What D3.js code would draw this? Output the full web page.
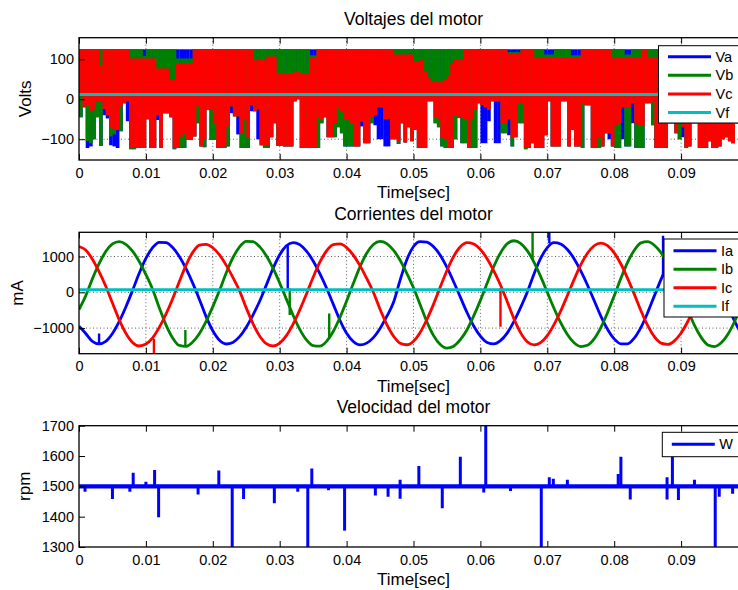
<!DOCTYPE html>
<html>
<head>
<meta charset="utf-8">
<title>Motor</title>
<script src="https://cdn.jsdelivr.net/npm/d3@7/dist/d3.min.js"></script>
<style>
    body { margin: 0; background: #fff; }
    svg text { font-family: "Liberation Sans", Arial, Helvetica, sans-serif; fill: #000; }
</style>
</head>
<body>
<div id="chart"></div>
<script>
const width = 738, height = 590;

// shared time axis
const xTicks = [0, 0.01, 0.02, 0.03, 0.04, 0.05, 0.06, 0.07, 0.08, 0.09];
const xTickLabels = ['0', '0.01', '0.02', '0.03', '0.04', '0.05', '0.06', '0.07', '0.08', '0.09'];

// --- voltages: envelope per 0.5 ms bin (lo / hi of each phase) ---
const vBin = 0.0005;
const vcLo = [10,-20,-15,-30,-25,-5,-5,-25,-40,-72, -77,-77,-18,-10,-5,-122,-122,-122,-122,-122,
 -50,-122,-122,-40,-122,-35,-35,-45,-122,-122, -93,-85,-102,-102,-93,-18,-118,-102,-27,-27,
 -60,-122,-122,-118,-68,-18,-43,-43,-85,-52,
 -95,-15,-30,-25,-115,-115,-115,-95,-60,-117, -117,-118,-118,-118,-5,0,-122,-122,-122,-122,
 -122,-47,-50,-45,-95,-95,-60,-20,-30,-50, -50,-60,-118,-118,-55,-110,-110,-45,-40,-20,
 -20,-50,-50,-100,-100,-105,-60,-108,-70,-105,
 -77,-122,-122,-122,-5,-5,-45,-50,-97,-100, -122,-122,-40,-47,-47,-50,-122,-50,-27,-10,
 -15,-20,-27,-5,-5,-5,-60,-60,-50,-95, -95,-10,-10,-122,-122,-110,-122,-122,-122,-90,
 -5,-118,-118,-118,-5,-5,-118,-77,-118,-118,
 -10,-15,-15,-122,-122,-95,-118,-85,-85,-118, -65,-60,-20,-20,-20,-10,-60,-65,-65,-10,
 -10,-5,-122,-122,-122,-122,-60,-60,-85,-60, -70,-122,-118,-60,-60,-122,-122,-122,-105,-122,
 -122,-118,-100,-95,-105,-110,-60,-60,-60,-60];
const vcHi = [125,125,125,125,125,125,85,125,125,125, 125,125,125,125,125,102,102,102,102,102,
 102,102,102,77,77,77,77,48,48,90, 90,90,90,90,125,125,125,125,125,125,
 125,125,125,125,125,125,125,125,125,125,
 125,125,98,98,98,98,107,107,107,65, 65,65,65,65,70,70,65,65,65,105,
 105,125,125,125,125,125,125,125,125,125, 125,125,125,125,125,125,125,125,125,125,
 125,125,125,125,112,112,112,112,112,112,
 95,95,100,70,55,45,45,43,45,50, 60,90,100,100,100,125,125,125,125,125,
 125,125,125,125,125,125,125,125,115,115, 115,115,125,125,125,125,105,105,105,105,
 105,105,105,105,105,105,105,105,105,105,
 125,125,125,125,125,125,125,125,125,105, 105,105,105,105,105,105,105,105,125,125,
 105,105,105,105,125,125,125,125,125,125, 125,125,125,125,125,125,125,125,125,125,
 125,125,125,125,125,125,125,125,125,125];
const vbLo = [-45,-20,-105,-110,-100,-45,-117,-25,-40,-93, -88,-77,-80,-10,-5,-125,-125,-122,-122,-122,
 -50,-122,-122,-40,-122,-35,-35,-45,-125,-122, -122,-122,-102,-102,-93,-60,-118,-120,-27,-102,
 -102,-122,-122,-122,-118,-18,-43,-43,-122,-122,
 -122,-15,-30,-25,-115,-122,-122,-95,-60,-117, -117,-118,-118,-118,-5,0,-122,-122,-122,-122,
 -122,-122,-60,-45,-95,-95,-95,-70,-85,-118, -118,-118,-118,-118,-55,-110,-110,-60,-40,-20,
 -20,-50,-50,-100,-100,-112,-60,-108,-70,-105,
 -77,-122,-122,-122,-5,-5,-60,-70,-118,-122, -122,-122,-100,-47,-110,-110,-122,-122,-122,-10,
 -15,-20,-27,-5,-5,-5,-85,-85,-50,-118, -95,-60,-60,-125,-122,-110,-122,-122,-122,-90,
 -5,-118,-118,-118,-5,-5,-118,-77,-118,-118,
 -122,-15,-15,-122,-122,-122,-118,-85,-85,-118, -122,-122,-20,-118,-118,-10,-122,-122,-122,-10,
 -10,-65,-122,-122,-122,-122,-60,-60,-85,-100, -70,-122,-118,-60,-60,-122,-122,-122,-105,-122,
 -122,-118,-100,-95,-105,-110,-60,-60,-60,-60];
const vbHi = [125,125,125,125,125,125,125,125,125,125, 125,125,125,125,125,125,125,125,125,108,
 125,125,125,125,125,125,125,125,125,102, 102,102,102,102,125,125,125,125,125,125,
 125,125,125,125,125,125,125,125,125,125,
 125,125,125,125,125,125,125,125,125,125, 125,125,125,125,125,125,125,125,125,110,
 110,125,125,125,125,125,125,125,125,125, 125,125,125,125,125,125,125,125,125,125,
 125,125,125,125,125,125,125,125,125,125,
 125,125,125,125,125,125,125,125,125,125, 125,125,125,125,125,125,125,125,125,125,
 125,125,125,125,125,125,125,125,118,118, 118,118,125,125,125,125,125,125,125,112,
 112,112,125,125,125,125,125,110,110,110,
 125,125,125,125,125,125,125,125,125,125, 125,125,125,112,112,125,125,125,125,125,
 125,125,125,125,125,125,125,125,125,125, 125,125,125,125,125,125,125,125,125,125,
 125,125,125,125,125,125,125,125,125,125];
const vaLo = [-45,-20,-122,-118,-100,-45,-117,-40,-48,-115, -118,-122,-80,-10,-55,-125,-125,-122,-122,-122,
 -50,-122,-122,-52,-122,-35,-35,-45,-125,-122, -122,-122,-102,-102,-93,-60,-118,-120,-27,-102,
 -102,-122,-122,-122,-118,-35,-30,-88,-122,-122,
 -122,-30,-30,-100,-115,-122,-122,-95,-60,-117, -117,-118,-118,-118,-5,0,-122,-122,-122,-122,
 -122,-122,-60,-45,-95,-95,-95,-70,-85,-118, -118,-118,-118,-118,-68,-110,-110,-60,-65,-100,
 -100,-118,-118,-100,-100,-112,-60,-108,-70,-105,
 -77,-122,-122,-122,-5,-5,-60,-70,-118,-122, -122,-122,-100,-47,-110,-110,-122,-122,-122,-10,
 -110,-110,-55,-5,-110,-110,-85,-85,-90,-118, -95,-60,-60,-125,-122,-110,-122,-122,-122,-90,
 -5,-118,-118,-118,-5,-5,-118,-77,-118,-118,
 -122,-15,-15,-122,-122,-122,-118,-85,-100,-118, -122,-122,-100,-118,-118,-60,-122,-122,-122,-10,
 -10,-65,-122,-122,-122,-122,-60,-60,-85,-100, -95,-122,-118,-60,-60,-122,-122,-122,-105,-122,
 -122,-118,-100,-95,-105,-110,-60,-60,-60,-60];
const vaHi = [125,125,125,125,125,125,125,125,125,125, 125,125,125,125,125,125,125,125,125,125,
 125,125,125,125,125,125,125,125,125,125, 125,125,125,125,125,125,125,125,125,125,
 125,125,125,125,125,125,125,125,125,125,
 125,125,125,125,125,125,125,125,125,125, 125,125,125,125,125,125,125,125,125,125,
 125,125,125,125,125,125,125,125,125,125, 125,125,125,125,125,125,125,125,125,125,
 125,125,125,125,125,125,125,125,125,125,
 125,125,125,125,125,125,125,125,125,125, 125,125,125,125,125,125,125,125,125,125,
 125,125,125,125,125,125,125,125,125,125, 125,125,125,125,125,125,125,125,125,125,
 125,125,125,125,125,125,125,125,125,125,
 125,125,125,125,125,125,125,125,125,125, 125,125,125,125,125,125,125,125,125,125,
 125,125,125,125,125,125,125,125,125,125, 125,125,125,125,125,125,125,125,125,125,
 125,125,125,125,125,125,125,125,125,125];
const vfT = [0, 0.1];
const vfV = [12, 12];

// --- currents, one reading per ms ---
const iStep = 0.001;
const ia = [-950,-1150,-1370,-1440,-1370,-1150,-820,-410,50,530,
 945,1245,1395,1390,1250,1000,660,255,-200,-680,
 -1075,-1340,-1444,-1400,-1240,-975,-635,-250,200,665,
 1050,1300,1390,1330,1150,875,520,120,-330,-780,
 -1145,-1375,-1470,-1420,-1265,-1010,-675,-285,340,910,
 1280,1415,1400,1270,1035,695,295,-135,-565,-940,
 -1225,-1400,-1440,-1350,-1140,-820,-430,0,505,945,
 1250,1385,1350,1195,940,600,205,-230,-665,-1030,
 -1300,-1440,-1440,-1280,-980,-570,-100,360,780,1110,
 1325,1400,1340,1150,860,500,85,-375,-805,-1150,
 -1370];
const ib = [-480,-100,375,800,1140,1350,1415,1340,1150,860,
 495,85,-430,-910,-1275,-1485,-1510,-1390,-1150,-810,
 -400,50,540,965,1270,1425,1415,1275,1020,675,
 260,-190,-640,-1035,-1330,-1490,-1505,-1370,-1095,-705,
 -245,245,710,1090,1335,1420,1360,1175,895,530,
 125,-350,-825,-1210,-1460,-1560,-1505,-1325,-1045,-660,
 -225,250,720,1100,1355,1440,1370,1165,845,445,
 0,-445,-850,-1180,-1410,-1515,-1480,-1300,-985,-570,
 -100,390,835,1175,1380,1415,1315,1105,795,415,
 0,-490,-925,-1260,-1470,-1515,-1410,-1170,-815,-380,
 60];
const ic = [1275,1180,925,575,170,-300,-765,-1145,-1400,-1500,
 -1445,-1270,-980,-610,-180,300,760,1115,1315,1340,
 1245,1045,760,415,40,-435,-875,-1220,-1435,-1500,
 -1420,-1210,-890,-490,-45,420,840,1155,1330,1350,
 1250,1040,745,390,0,-475,-895,-1220,-1420,-1465,
 -1365,-1120,-760,-330,145,610,1000,1270,1385,1350,
 1195,940,600,205,-255,-735,-1125,-1380,-1470,-1405,
 -1210,-905,-525,-90,355,765,1090,1300,1375,1305,
 1100,790,390,-50,-515,-925,-1240,-1420,-1455,-1355,
 -1135,-815,-425,0,470,880,1185,1350,1355,1230,
 1000];
const ifT = [0, 0.1];
const ifV = [70, 70];
// spikes: [time, from, to]
const iaSpikes = [[0.0030, -1440, -1150], [0.0312, 1290, 60], [0.0703, 1370, 1690], [0.0873, 420, 1580]];
const ibSpikes = [[0.0159, -1510, -1050], [0.0315, -635, 110], [0.0374, -1250, -590], [0.0678, 900, 1690]];
const icSpikes = [[0.0112, -1300, -1720], [0.0630, 120, -960]];

// --- speed ---
const wBaseT = [0, 0.1];
const wBaseV = [1500, 1500];
const wSpikeT = [0.0009,0.005,0.0076,0.0081,0.010,0.0113,0.0119,0.0178,0.0209,0.0229,0.0246,0.0292,0.0327,
 0.0342,0.0348,0.0373,0.0397,0.0443,0.0462,0.048,0.048,0.0508,0.0543,0.057,0.0605,0.0608,0.0645,0.0691,
 0.0703,0.0709,0.073,0.0806,0.081,0.0824,0.0879,0.0879,0.0887,0.0896,0.092,0.0951,0.0957,0.0977];
const wSpikeV = [1482,1458,1482,1545,1515,1554,1398,1473,1552,1300,1458,1444,1482,
 1300,1559,1487,1354,1470,1466,1522,1459,1567,1428,1598,1480,1700,1485,1300,
 1530,1525,1522,1541,1598,1457,1457,1530,1598,1455,1522,1300,1466,1476];

const colors = { a: '#0000ff', b: '#008000', c: '#ff0000', f: '#00bfbf' };

const svg = d3.select('#chart').append('svg')
    .attr('width', width).attr('height', height);

const x = d3.scaleLinear().domain([0, 0.1]).range([79, 748]);

function panel(cfg, idx) {
    const y = d3.scaleLinear().domain(cfg.yDomain).range([cfg.bottom, cfg.top]);
    const g = svg.append('g');

    g.append('clipPath').attr('id', 'clip' + idx)
        .append('rect')
        .attr('x', x(0)).attr('y', cfg.top)
        .attr('width', x(0.1) - x(0)).attr('height', cfg.bottom - cfg.top);

    // grid (dotted, like matlab "grid on")
    if (cfg.grid) {
        const gg = g.append('g').attr('stroke', '#333').attr('stroke-width', 0.8).attr('stroke-dasharray', '1,2.5');
        xTicks.slice(1).forEach(t => gg.append('line')
            .attr('x1', x(t)).attr('x2', x(t)).attr('y1', cfg.top).attr('y2', cfg.bottom));
        cfg.yTicks.forEach(v => gg.append('line')
            .attr('x1', x(0)).attr('x2', x(0.1)).attr('y1', y(v)).attr('y2', y(v)));
    }

    const plot = g.append('g').attr('clip-path', `url(#clip${idx})`);
    cfg.draw(plot, y);

    // axes
    g.append('g').attr('transform', `translate(0,${cfg.bottom})`)
        .call(d3.axisBottom(x).tickValues(xTicks).tickFormat((d, i) => xTickLabels[i])
            .tickSizeInner(-6).tickSizeOuter(0).tickPadding(7.5))
        .call(a => a.select('.domain').remove())
        .call(a => a.selectAll('text').style('font-size', '14.5px'));
    g.append('g').attr('transform', `translate(0,${cfg.top})`)
        .call(d3.axisTop(x).tickValues(xTicks).tickFormat('').tickSizeInner(-6).tickSizeOuter(0))
        .call(a => a.select('.domain').remove());
    g.append('g').attr('transform', `translate(${x(0)},0)`)
        .call(d3.axisLeft(y).tickValues(cfg.yTicks).tickFormat((d, i) => cfg.yTickLabels[i])
            .tickSizeInner(-6).tickSizeOuter(0).tickPadding(5))
        .call(a => a.select('.domain').remove())
        .call(a => a.selectAll('text').style('font-size', '14.5px'));

    g.append('rect')
        .attr('x', x(0)).attr('y', cfg.top)
        .attr('width', x(0.1) - x(0)).attr('height', cfg.bottom - cfg.top)
        .attr('fill', 'none').attr('stroke', '#000').attr('stroke-width', 1.3);

    g.append('text').attr('x', (x(0) + x(0.1)) / 2).attr('y', cfg.top - 12.7)
        .attr('text-anchor', 'middle').style('font-size', '17.5px').text(cfg.title);
    g.append('text').attr('x', (x(0) + x(0.1)) / 2).attr('y', cfg.bottom + 38)
        .attr('text-anchor', 'middle').style('font-size', '17px').text('Time[sec]');
    g.append('text')
        .attr('transform', `translate(${cfg.ylabelX},${(cfg.top + cfg.bottom) / 2}) rotate(-90)`)
        .attr('text-anchor', 'middle').style('font-size', '17px').text(cfg.ylabel);

    // legend
    const lg = cfg.legend;
    g.append('rect').attr('x', lg.x).attr('y', lg.y).attr('width', 120).attr('height', lg.h)
        .attr('fill', '#fff').attr('stroke', '#000').attr('stroke-width', 1);
    lg.items.forEach((it, i) => {
        const yy = lg.y + lg.first + i * lg.step;
        g.append('line').attr('x1', lg.x + 9.5).attr('x2', lg.x + 52.5).attr('y1', yy).attr('y2', yy)
            .attr('stroke', it.color).attr('stroke-width', 3);
        g.append('text').attr('x', lg.x + 57).attr('y', yy).attr('dy', '0.35em')
            .style('font-size', '14.5px').text(it.name);
    });
}

const panels = [
    {
        top: 37.7, bottom: 160, yDomain: [-152, 154],
        yTicks: [-100, 0, 100], yTickLabels: ['\u2212100', '0', '100'],
        grid: true, title: 'Voltajes del motor', ylabel: 'Volts', ylabelX: 30.5,
        legend: { x: 658.5, y: 45.7, h: 77.3, first: 11, step: 18.6,
            items: [{ name: 'Va', color: colors.a }, { name: 'Vb', color: colors.b },
                    { name: 'Vc', color: colors.c }, { name: 'Vf', color: colors.f }] },
        draw: (p, y) => {
            const bands = [[vaLo, vaHi, colors.a], [vbLo, vbHi, colors.b], [vcLo, vcHi, colors.c]];
            bands.forEach(([lo, hi, col]) => {
                p.append('g').attr('fill', col).selectAll('rect')
                    .data(d3.range(lo.length).filter(i => hi[i] > lo[i]))
                    .join('rect')
                    .attr('x', i => x(i * vBin))
                    .attr('width', i => x((i + 1) * vBin) - x(i * vBin) + 0.3)
                    .attr('y', i => y(hi[i]))
                    .attr('height', i => y(lo[i]) - y(hi[i]));
            });
            p.append('path').datum(vfT.map((t, i) => [t, vfV[i]]))
                .attr('d', d3.line().x(d => x(d[0])).y(d => y(d[1])))
                .attr('fill', 'none').attr('stroke', colors.f).attr('stroke-width', 3);
        }
    },
    {
        top: 232.3, bottom: 353.7, yDomain: [-1715, 1676],
        yTicks: [-1000, 0, 1000], yTickLabels: ['\u22121000', '0', '1000'],
        grid: true, title: 'Corrientes del motor', ylabel: 'mA', ylabelX: 23,
        legend: { x: 664, y: 239, h: 78, first: 11.7, step: 18.5,
            items: [{ name: 'Ia', color: colors.a }, { name: 'Ib', color: colors.b },
                    { name: 'Ic', color: colors.c }, { name: 'If', color: colors.f }] },
        draw: (p, y) => {
            const line = d3.line().x((d, i) => x(i * iStep)).y(d => y(d)).curve(d3.curveMonotoneX);
            [[ia, iaSpikes, colors.a], [ib, ibSpikes, colors.b], [ic, icSpikes, colors.c]].forEach(([vals, sp, col]) => {
                p.append('path').datum(vals).attr('d', line)
                    .attr('fill', 'none').attr('stroke', col).attr('stroke-width', 2.8);
                p.append('g').selectAll('line').data(sp).join('line')
                    .attr('x1', d => x(d[0])).attr('x2', d => x(d[0]))
                    .attr('y1', d => y(d[1])).attr('y2', d => y(d[2]))
                    .attr('stroke', col).attr('stroke-width', 2.4);
            });
            p.append('path').datum(ifT.map((t, i) => [t, ifV[i]]))
                .attr('d', d3.line().x(d => x(d[0])).y(d => y(d[1])))
                .attr('fill', 'none').attr('stroke', colors.f).attr('stroke-width', 3);
        }
    },
    {
        top: 425.7, bottom: 547, yDomain: [1300, 1700],
        yTicks: [1300, 1400, 1500, 1600, 1700], yTickLabels: ['1300', '1400', '1500', '1600', '1700'],
        grid: false, title: 'Velocidad del motor', ylabel: 'rpm', ylabelX: 30,
        legend: { x: 662.3, y: 432.3, h: 24.4, first: 12, step: 0,
            items: [{ name: 'W', color: colors.a }] },
        draw: (p, y) => {
            p.append('path').datum(wBaseT.map((t, i) => [t, wBaseV[i]]))
                .attr('d', d3.line().x(d => x(d[0])).y(d => y(d[1])))
                .attr('fill', 'none').attr('stroke', colors.a).attr('stroke-width', 4.2);
            p.append('g').selectAll('line').data(wSpikeT).join('line')
                .attr('x1', t => x(t)).attr('x2', t => x(t))
                .attr('y1', y(wBaseV[0])).attr('y2', (t, i) => y(wSpikeV[i]))
                .attr('stroke', colors.a).attr('stroke-width', 3);
        }
    }
];

panels.forEach(panel);
</script>
</body>
</html>
